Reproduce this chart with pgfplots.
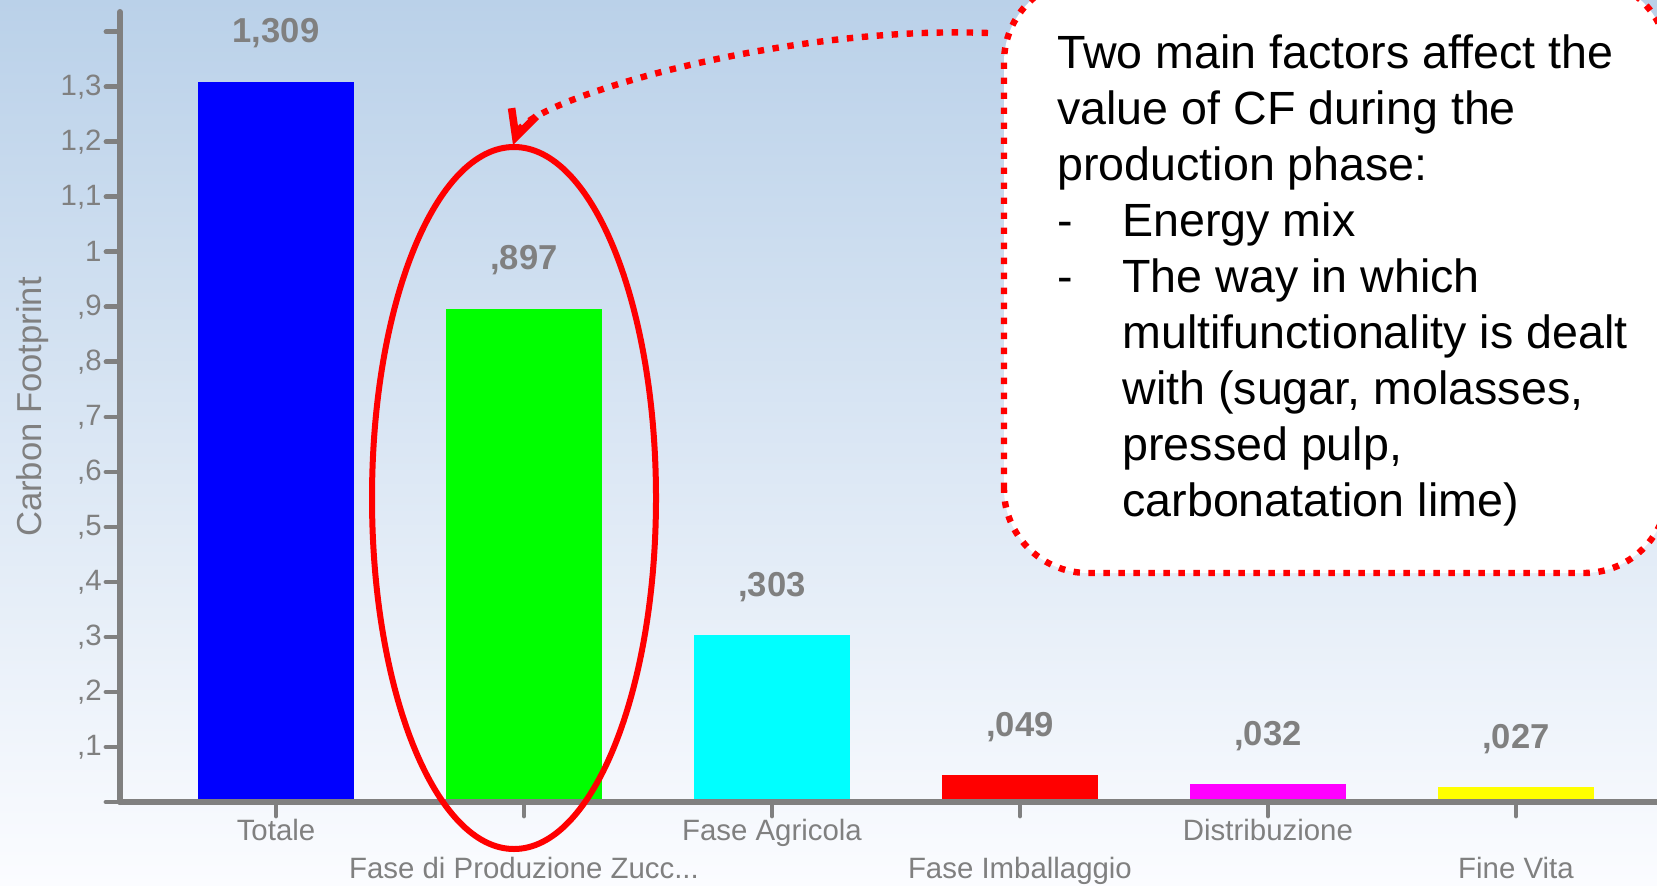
\documentclass[border=0pt]{standalone}
\usepackage{pgfplots}
\pgfplotsset{compat=1.18}
\usepackage{fontspec}
\setmainfont{Liberation Sans}
\usetikzlibrary{arrows.meta}

\definecolor{axgray}{RGB}{128,128,128}
\definecolor{bgtop}{RGB}{186,209,233}
\definecolor{bgbot}{RGB}{251,252,255}

\begin{document}
\begin{tikzpicture}
\useasboundingbox (0,0) rectangle (828.5pt,442.5pt);
\begin{scope}
\clip (0,0) rectangle (828.5pt,442.5pt);
\shade[top color=bgtop, bottom color=bgbot] (0,0) rectangle (828.5pt,442.5pt);

\begin{axis}[
    at={(60pt,41.5pt)}, anchor=south west,
    scale only axis, width=768.5pt, height=395pt,
    xmin=-0.629, xmax=5.569, ymin=0, ymax=1.436,
    axis lines=left,
    axis line style={-, axgray, line width=3pt, line cap=round},
    axis on top,
    ybar, bar width=78pt, bar shift=0pt,
    tick align=outside, major tick length=7pt,
    tick style={axgray, line width=2.4pt, line cap=round},
    xtick={0,2,4},
    xticklabels={Totale, Fase Agricola, Distribuzione},
    extra x ticks={1,3,5},
    extra x tick labels={{Fase di Produzione Zucc.{}.{}.}, {Fase Imballaggio}, {Fine Vita}},
    extra x tick style={xticklabel style={yshift=-19pt}},
    ytick={0.1,0.2,0.3,0.4,0.5,0.6,0.7,0.8,0.9,1,1.1,1.2,1.3},
    extra y ticks={0,1.4}, extra y tick labels={},
    ticklabel style={text=axgray, font=\fontsize{14.7}{16}\selectfont},
    xticklabel style={anchor=base, yshift=-12pt},
    yticklabel style={inner sep=2pt, /pgf/number format/.cd, use comma, fixed, precision=1, skip 0., assume math mode=true},
    ylabel={Carbon Footprint},
    ylabel style={at={(axis description cs:-0.0566,0.5)}, anchor=center, text=axgray, font=\fontsize{17.3}{20}\selectfont},
    nodes near coords,
    nodes near coords style={anchor=base, yshift=19.5pt, text=axgray, font=\bfseries\fontsize{17.3}{20}\selectfont,
      /pgf/number format/.cd, use comma, fixed, precision=3, zerofill, skip 0., assume math mode=true},
  ]
  % Totale
  \addplot[fill={rgb,255:red,0;green,0;blue,255}, draw=none] coordinates {(0,1.309)};
  % Fase di Produzione Zucchero
  \addplot[fill={rgb,255:red,0;green,255;blue,0}, draw=none] coordinates {(1,0.897)};
  % Fase Agricola
  \addplot[fill={rgb,255:red,0;green,255;blue,255}, draw=none] coordinates {(2,0.303)};
  % Fase Imballaggio
  \addplot[fill={rgb,255:red,255;green,0;blue,0}, draw=none] coordinates {(3,0.049)};
  % Distribuzione
  \addplot[fill={rgb,255:red,255;green,0;blue,255}, draw=none] coordinates {(4,0.032)};
  % Fine Vita
  \addplot[fill={rgb,255:red,255;green,255;blue,0}, draw=none] coordinates {(5,0.027)};
\end{axis}

% annotations, in pixel units of the reference
\begin{scope}[x=0.5pt, y=-0.5pt, yshift=442.5pt]
  \draw[red, fill=white, line width=3.2pt, dash pattern=on 3.2pt off 4.3pt, rounded corners=42pt]
    (1004,573) rectangle (1668,-22);
  \node[anchor=north west, inner sep=0pt, align=left, font=\fontsize{23.3}{28}\selectfont] at (1057,34)
    {Two main factors affect the\\
     value of CF during the\\
     production phase:\\
     \makebox[32.5pt][l]{-}Energy mix\\
     \makebox[32.5pt][l]{-}The way in which\\
     \hspace*{32.5pt}multifunctionality is dealt\\
     \hspace*{32.5pt}with (sugar, molasses,\\
     \hspace*{32.5pt}pressed pulp,\\
     \hspace*{32.5pt}carbonatation lime)};
  \draw[red, line width=3.2pt, dash pattern=on 3.2pt off 4.3pt,
        -{Straight Barb[length=13pt, width=13pt, line width=3.8pt]}]
    (988,33) .. controls (780,25) and (528,100) .. (513,145);
  \draw[red, line width=3pt] (514,498) ellipse [x radius=142, y radius=351];
\end{scope}
\end{scope}
\end{tikzpicture}
\end{document}
